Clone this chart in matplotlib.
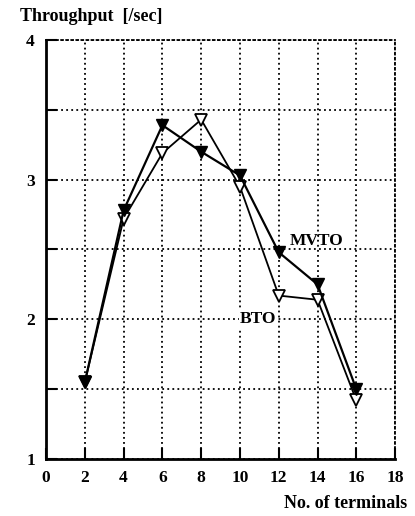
import matplotlib
matplotlib.use('Agg')
import matplotlib.pyplot as plt
from matplotlib.ticker import MultipleLocator

terminals = [2, 4, 6, 8, 10, 12, 14, 16]
mvto = [1.55, 2.78, 3.39, 3.20, 3.03, 2.48, 2.25, 1.50]
bto = [1.55, 2.72, 3.19, 3.43, 2.95, 2.17, 2.14, 1.42]
x_ticks = [0, 2, 4, 6, 8, 10, 12, 14, 16, 18]
y_ticks = [1, 2, 3, 4]

plt.rcParams['font.family'] = ['Liberation Serif', 'DejaVu Serif']
plt.rcParams['font.weight'] = 'bold'

fig = plt.figure(figsize=(4.15, 5.16), dpi=100)
ax = fig.add_axes([0.111, 0.1105, 0.841, 0.812])

# open triangles first so the filled ones sit on top where they meet
ax.plot(terminals, bto, color='black', lw=1.3, marker='v', ms=8.5,
        mfc='white', mec='black', mew=1.3, zorder=3)
ax.plot(terminals, mvto, color='black', lw=1.6, marker='v', ms=8.5,
        mfc='black', mec='black', zorder=4)

ax.set_xlim(0, 18)
ax.set_ylim(1, 4)
ax.set_xticks(x_ticks)
ax.set_yticks(y_ticks)
ax.yaxis.set_minor_locator(MultipleLocator(0.5))

ax.grid(True, which='both', ls=(0, (1, 1.8)), lw=1.3, color='black')
ax.tick_params(axis='x', direction='in', length=8, width=1.5, labelsize=12.5, pad=8)
ax.tick_params(axis='y', which='both', direction='in', length=8, width=1.5, labelsize=12.5, pad=8)

for s in ['left', 'bottom']:
    ax.spines[s].set_linewidth(2)
for s in ['top', 'right']:
    ax.spines[s].set_linestyle((0, (1, 1.8)))
    ax.spines[s].set_linewidth(1.3)

for lbl in ax.get_xticklabels() + ax.get_yticklabels():
    lbl.set_fontweight('bold')

fig.text(0.048, 0.968, 'Throughput  [/sec]', fontsize=13, fontweight='bold', va='center')
fig.text(0.982, 0.024, 'No. of terminals', fontsize=13, fontweight='bold', ha='right', va='center')
ax.text(12.55, 2.56, 'MVTO', fontsize=12.5, fontweight='bold', ha='left', va='center')
ax.text(10.0, 2.0, 'BTO', fontsize=12.5, fontweight='bold', ha='left', va='center',
        bbox=dict(facecolor='white', edgecolor='none', pad=1))

fig.savefig('out.png', dpi=100)
